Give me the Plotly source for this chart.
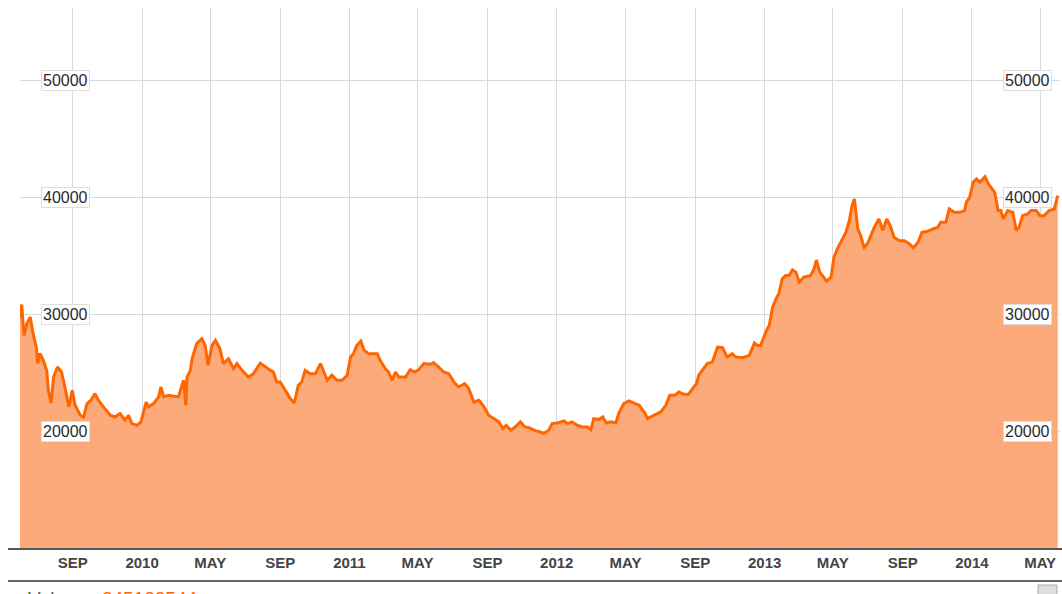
import plotly.graph_objects as go

dates = [
    "2009-05-31", "2009-06-03", "2009-06-07", "2009-06-12", "2009-06-18", "2009-06-23", "2009-06-29",
    "2009-07-01", "2009-07-05", "2009-07-11", "2009-07-17", "2009-07-20", "2009-07-25", "2009-07-29",
    "2009-08-05", "2009-08-12", "2009-08-18", "2009-08-25", "2009-08-31", "2009-09-05", "2009-09-14",
    "2009-09-20", "2009-09-26", "2009-10-03", "2009-10-10", "2009-10-16", "2009-10-25", "2009-11-06",
    "2009-11-14", "2009-11-23", "2009-12-02", "2009-12-08", "2009-12-14", "2009-12-23", "2009-12-30",
    "2010-01-08", "2010-01-12", "2010-01-21", "2010-01-30", "2010-02-03", "2010-02-08", "2010-02-16",
    "2010-03-06", "2010-03-15", "2010-03-19", "2010-03-21", "2010-03-27", "2010-03-30", "2010-04-07",
    "2010-04-16", "2010-04-22", "2010-04-27", "2010-05-04", "2010-05-10", "2010-05-18", "2010-05-24",
    "2010-06-02", "2010-06-11", "2010-06-17", "2010-06-26", "2010-07-07", "2010-07-16", "2010-07-28",
    "2010-08-06", "2010-08-15", "2010-08-20", "2010-08-26", "2010-09-01", "2010-09-10", "2010-09-19",
    "2010-09-26", "2010-10-03", "2010-10-09", "2010-10-15", "2010-10-24", "2010-11-02", "2010-11-11",
    "2010-11-17", "2010-11-23", "2010-12-01", "2010-12-10", "2010-12-19", "2010-12-28", "2011-01-03",
    "2011-01-08", "2011-01-14", "2011-01-21", "2011-01-27", "2011-02-04", "2011-02-19", "2011-02-24",
    "2011-03-05", "2011-03-11", "2011-03-17", "2011-03-23", "2011-03-29", "2011-04-10", "2011-04-18",
    "2011-04-26", "2011-05-03", "2011-05-12", "2011-05-24", "2011-05-29", "2011-06-07", "2011-06-16",
    "2011-06-25", "2011-07-04", "2011-07-12", "2011-07-23", "2011-07-30", "2011-08-08", "2011-08-17",
    "2011-08-26", "2011-09-03", "2011-09-12", "2011-09-21", "2011-09-28", "2011-10-04", "2011-10-12",
    "2011-10-20", "2011-10-29", "2011-11-06", "2011-11-13", "2011-11-25", "2011-12-03", "2011-12-09",
    "2011-12-18", "2011-12-24", "2012-01-02", "2012-01-14", "2012-01-20", "2012-01-28", "2012-02-06",
    "2012-02-15", "2012-02-24", "2012-03-01", "2012-03-06", "2012-03-15", "2012-03-22", "2012-03-28",
    "2012-04-05", "2012-04-14", "2012-04-19", "2012-04-28", "2012-05-07", "2012-05-16", "2012-05-25",
    "2012-06-03", "2012-06-09", "2012-06-14", "2012-06-23", "2012-07-02", "2012-07-11", "2012-07-18",
    "2012-07-27", "2012-08-03", "2012-08-12", "2012-08-20", "2012-08-27", "2012-09-03", "2012-09-07",
    "2012-09-14", "2012-09-22", "2012-10-01", "2012-10-10", "2012-10-19", "2012-10-27", "2012-11-05",
    "2012-11-11", "2012-11-23", "2012-12-05", "2012-12-14", "2012-12-19", "2012-12-25", "2013-01-03",
    "2013-01-09", "2013-01-15", "2013-01-21", "2013-01-26", "2013-02-01", "2013-02-07", "2013-02-13",
    "2013-02-19", "2013-02-25", "2013-03-03", "2013-03-11", "2013-03-17", "2013-03-23", "2013-03-29",
    "2013-04-02", "2013-04-08", "2013-04-14", "2013-04-20", "2013-04-28", "2013-05-03", "2013-05-09",
    "2013-05-18", "2013-05-24", "2013-05-30", "2013-06-04", "2013-06-08", "2013-06-11", "2013-06-14",
    "2013-06-19", "2013-06-25", "2013-07-01", "2013-07-07", "2013-07-13", "2013-07-21", "2013-07-28",
    "2013-08-04", "2013-08-10", "2013-08-17", "2013-08-26", "2013-09-04", "2013-09-13", "2013-09-20",
    "2013-09-28", "2013-10-05", "2013-10-15", "2013-10-24", "2013-11-02", "2013-11-07", "2013-11-16",
    "2013-11-22", "2013-12-01", "2013-12-10", "2013-12-19", "2013-12-22", "2013-12-28", "2014-01-03",
    "2014-01-09", "2014-01-15", "2014-01-24", "2014-01-30", "2014-02-04", "2014-02-10", "2014-02-16",
    "2014-02-21", "2014-02-25", "2014-03-05", "2014-03-14", "2014-03-20", "2014-03-25", "2014-03-31",
    "2014-04-09", "2014-04-15", "2014-04-24", "2014-05-01", "2014-05-08", "2014-05-17", "2014-05-26",
    "2014-06-01",
]

values = [
    29700, 30850, 28200, 29200, 29770, 28375, 27100,
    25800, 26670, 26070, 25200, 23500, 22400, 24640,
    25500, 25070, 23800, 22080, 23500, 22220, 21370,
    21220, 22370, 22650, 23220, 22650, 22080, 21370,
    21220, 21510, 20940, 21370, 20650, 20510, 20800,
    22500, 22080, 22370, 22940, 23790, 22940, 23080,
    22940, 24360, 22220, 24640, 25210, 26200, 27500,
    27920, 27350, 25640, 27350, 27780, 27070, 25790,
    26210, 25360, 25790, 25210, 24640, 24930, 25840,
    25500, 25210, 25070, 24210, 24210, 23500, 22790,
    22420, 23930, 24210, 25210, 24930, 24930, 25790,
    25070, 24360, 24790, 24360, 24360, 24790, 26350,
    26640, 27350, 27720, 26920, 26640, 26640, 26070,
    25360, 25070, 24360, 25070, 24640, 24640, 25270,
    25070, 25270, 25790, 25730, 25870, 25500, 25070,
    24930, 24210, 23790, 24070, 23650, 22500, 22650,
    22080, 21370, 21080, 20800, 20230, 20510, 20090,
    20370, 20800, 20370, 20310, 20030, 19940, 19800,
    20090, 20650, 20710, 20880, 20650, 20800, 20510,
    20370, 20370, 20140, 21080, 21000, 21220, 20710,
    20800, 20710, 21510, 22370, 22590, 22420, 22220,
    21650, 21080, 21220, 21450, 21650, 22220, 23080,
    23080, 23360, 23160, 23160, 23650, 24070, 24790,
    25210, 25790, 25920, 27200, 27150, 26350, 26640,
    26350, 26300, 26500, 27550, 27350, 27350, 28490,
    29060, 30620, 31340, 31770, 33050, 33330, 33330,
    33820, 33620, 32760, 33190, 33250, 33330, 33900,
    34660, 33620, 33190, 32850, 33190, 34890, 35610,
    36460, 37030, 38030, 39310, 39890, 38460, 37320,
    36750, 35750, 36040, 36750, 37460, 38180, 37180,
    38180, 37610, 36610, 36320, 36320, 36040, 35700,
    36180, 37030, 37120, 37320, 37460, 37890, 37890,
    39030, 38740, 38740, 38890, 39600, 40030, 41310,
    41600, 41310, 41800, 41170, 40880, 40450, 38890,
    38890, 38180, 38890, 38740, 37180, 37460, 38460,
    38600, 38890, 38890, 38460, 38460, 38890, 39030,
    40170,
]

tick_dates = ["2009-09-01", "2010-01-01", "2010-05-01", "2010-09-01", "2011-01-01",
              "2011-05-01", "2011-09-01", "2012-01-01", "2012-05-01", "2012-09-01",
              "2013-01-01", "2013-05-01", "2013-09-01", "2014-01-01", "2014-05-01"]
tick_text = ["SEP", "2010", "MAY", "SEP", "2011", "MAY", "SEP", "2012", "MAY", "SEP",
             "2013", "MAY", "SEP", "2014", "MAY"]
y_ticks = [20000, 30000, 40000, 50000]
volume_text = "245122544"

# the page body margin is removed, so figure pixels equal window pixels
W, H = 1062, 594
L, R, T, B = 20, 2, 8, 45
pw = W - L - R
ph = H - T - B

def px_x(p):
    return (p - L) / pw

def px_y(p):
    return (H - B - p) / ph

fig = go.Figure()
fig.add_trace(go.Scatter(
    x=dates, y=values, mode="lines", fill="tozeroy",
    line=dict(color="#ff6600", width=3),
    fillcolor="#fdaa7b", hoverinfo="skip", showlegend=False,
))

annotations = []
for v in y_ticks:
    for xp in (65, 1027):
        annotations.append(dict(
            x=px_x(xp), xref="paper", y=v, yref="y", text=str(v), showarrow=False,
            xanchor="center", yanchor="middle",
            font=dict(family="Liberation Sans, Arial", size=16, color="#2a2a2a"),
            bgcolor="#ffffff", bordercolor="#dddddd", borderwidth=1, borderpad=1,
        ))

annotations.append(dict(
    x=px_x(26), xref="paper", y=px_y(586), yref="paper", xanchor="left", yanchor="top",
    showarrow=False,
    text="<span style='color:#555555'>Volume:</span> <span style='color:#ff6600'>" + volume_text + "</span>",
    font=dict(family="Liberation Sans, Arial", size=19),
))

shapes = [
    dict(type="line", xref="paper", yref="paper", x0=px_x(8), x1=px_x(1062), y0=0, y1=0,
         line=dict(color="#555555", width=2)),
    dict(type="line", xref="paper", yref="paper", x0=px_x(8), x1=px_x(1062),
         y0=px_y(581), y1=px_y(581), line=dict(color="#666666", width=2)),
    dict(type="rect", xref="paper", yref="paper", x0=px_x(1038), x1=px_x(1057),
         y0=px_y(595), y1=px_y(585), fillcolor="#dddddd", line=dict(color="#aaaaaa", width=1)),
]

fig.update_layout(
    width=W, height=H,
    margin=dict(l=L, r=R, t=T, b=B),
    paper_bgcolor="#ffffff", plot_bgcolor="#ffffff",
    showlegend=False,
    annotations=annotations,
    shapes=shapes,
    xaxis=dict(
        range=["2009-05-31", "2014-06-05"], type="date",
        tickvals=tick_dates, ticktext=tick_text,
        showgrid=True, gridcolor="#d9d9d9", gridwidth=1,
        showline=False, zeroline=False, ticks="",
        tickfont=dict(family="Liberation Sans, Arial", size=15, color="#444444", weight="bold"),
        ticklabelstandoff=3,
        fixedrange=True,
    ),
    yaxis=dict(
        range=[9915, 56240], tickvals=y_ticks, showticklabels=False,
        showgrid=True, gridcolor="#d9d9d9", gridwidth=1,
        zeroline=False, showline=False, ticks="", fixedrange=True,
    ),
)

fig.write_html(
    "out.html",
    config={"displayModeBar": False},
    post_script="document.body.style.margin='0';document.body.style.overflow='hidden';",
)
